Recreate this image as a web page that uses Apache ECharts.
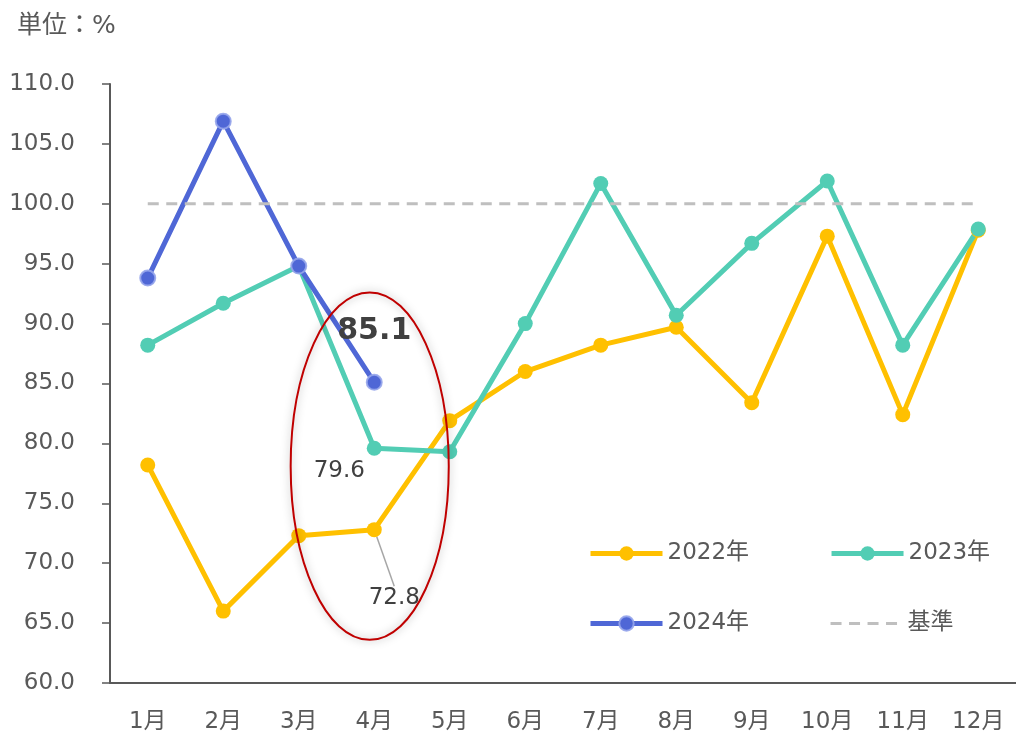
<!DOCTYPE html>
<html>
<head>
<meta charset="utf-8">
<script src="https://cdn.jsdelivr.net/npm/echarts@6/dist/echarts.min.js"></script>
<style>
  html, body { margin: 0; padding: 0; background: #fff; }
  #chart { width: 1016px; height: 734px; }
</style>
</head>
<body>
<div id="chart"></div>
<script>
const months = ['1月', '2月', '3月', '4月', '5月', '6月', '7月', '8月', '9月', '10月', '11月', '12月'];
const data2022 = [78.2, 66.0, 72.3, 72.8, 81.9, 86.0, 88.2, 89.7, 83.4, 97.3, 82.4, 97.8];
const data2023 = [88.2, 91.7, 94.8, 79.6, 79.3, 90.0, 101.7, 90.7, 96.7, 101.9, 88.2, 97.9];
const data2024 = [93.8, 106.9, 94.8, 85.1];
const baseline = [100, 100, 100, 100, 100, 100, 100, 100, 100, 100, 100, 100];

const FONT = "'DejaVu Sans', 'Noto Sans CJK JP', sans-serif";
const TEXT = '#595959';

let chart = echarts.init(document.getElementById('chart'));

let legendCommon = {
    left: 588,
    padding: 0,
    itemWidth: 72, itemHeight: 18, itemGap: 80,
    lineStyle: { width: 5 },
    textStyle: { fontSize: 23, color: TEXT, fontFamily: FONT }
};

let option = {
    backgroundColor: '#fff',
    animation: false,
    textStyle: { fontFamily: FONT },
    title: {
        text: '単位：%',
        left: 12,
        top: 9,
        textStyle: { fontSize: 25, fontWeight: 'normal', color: TEXT, fontFamily: FONT }
    },
    legend: [
        Object.assign({ data: ['2022年', '2023年'], top: 542 }, legendCommon),
        Object.assign({
            data: ['2024年', { name: '基準', itemStyle: { opacity: 0 }, lineStyle: { width: 3 } }],
            top: 612
        }, legendCommon)
    ],
    grid: { left: 110, top: 84, width: 911, height: 599 },
    xAxis: {
        type: 'category',
        data: months,
        boundaryGap: true,
        axisLine: { lineStyle: { color: TEXT, width: 2 } },
        axisTick: { length: 8, lineStyle: { color: TEXT, width: 1.5 } },
        axisLabel: { fontSize: 23, color: TEXT, margin: 28, fontFamily: FONT }
    },
    yAxis: {
        type: 'value',
        min: 60, max: 110, interval: 5,
        splitLine: { show: false },
        axisLine: { show: true, lineStyle: { color: TEXT, width: 2 } },
        axisTick: { show: true, length: 8, lineStyle: { color: TEXT, width: 1.5 } },
        axisLabel: {
            fontSize: 23, color: TEXT, margin: 35, fontFamily: FONT,
            padding: [0, 0, 5, 0],
            formatter: v => v.toFixed(1)
        }
    },
    series: [
        {
            name: '2022年',
            type: 'line',
            data: data2022.map((v, i) => i === 3 ? {
                value: v,
                label: { show: true, position: 'bottom', fontSize: 23, color: '#404040' },
                labelLine: { show: true, lineStyle: { color: '#A6A6A6', width: 1.5 } }
            } : v),
            symbol: 'circle', symbolSize: 15,
            color: '#FFC000',
            lineStyle: { width: 5, color: '#FFC000' },
            labelLayout: p => p.dataIndex === 3 ? { dx: 20, dy: 44 } : {}
        },
        {
            name: '2023年',
            type: 'line',
            data: data2023.map((v, i) => i === 3 ? {
                value: v,
                label: { show: true, position: 'bottom', offset: [-35, -1], fontSize: 23, color: '#404040' }
            } : v),
            symbol: 'circle', symbolSize: 15,
            color: '#52CDB4',
            lineStyle: { width: 5, color: '#52CDB4' }
        },
        {
            name: '2024年',
            type: 'line',
            data: data2024.map((v, i) => i === 3 ? {
                value: v,
                label: { show: true, position: 'top', offset: [0, -23], fontSize: 30, fontWeight: 'bold', color: '#404040' }
            } : v),
            symbol: 'circle', symbolSize: 15,
            color: '#4F67D6',
            itemStyle: { color: '#4F67D6', borderColor: 'rgba(150,165,235,0.9)', borderWidth: 2 },
            lineStyle: { width: 5, color: '#4F67D6' }
        },
        {
            name: '基準',
            type: 'line',
            data: baseline,
            symbol: 'none',
            color: '#BFBFBF',
            lineStyle: { width: 3, color: '#BFBFBF', type: [11, 7.5] },
            silent: true
        }
    ]
};

chart.setOption(option);

// 4月を囲む楕円
let c4 = chart.convertToPixel({ gridIndex: 0 }, ['4月', 78.1]);
let c3 = chart.convertToPixel({ gridIndex: 0 }, ['3月', 78.1]);
let cTop = chart.convertToPixel({ gridIndex: 0 }, ['4月', 92.6]);
let cw = c4[0] - c3[0];
chart.setOption({
    graphic: [{
        type: 'ellipse',
        shape: { cx: c4[0] - 0.06 * cw, cy: c4[1], rx: 1.047 * cw, ry: c4[1] - cTop[1] },
        style: {
            fill: 'none', stroke: '#C00000', lineWidth: 2,
            shadowBlur: 8, shadowColor: 'rgba(0,0,0,0.35)'
        },
        z: 100
    }]
});
</script>
</body>
</html>
